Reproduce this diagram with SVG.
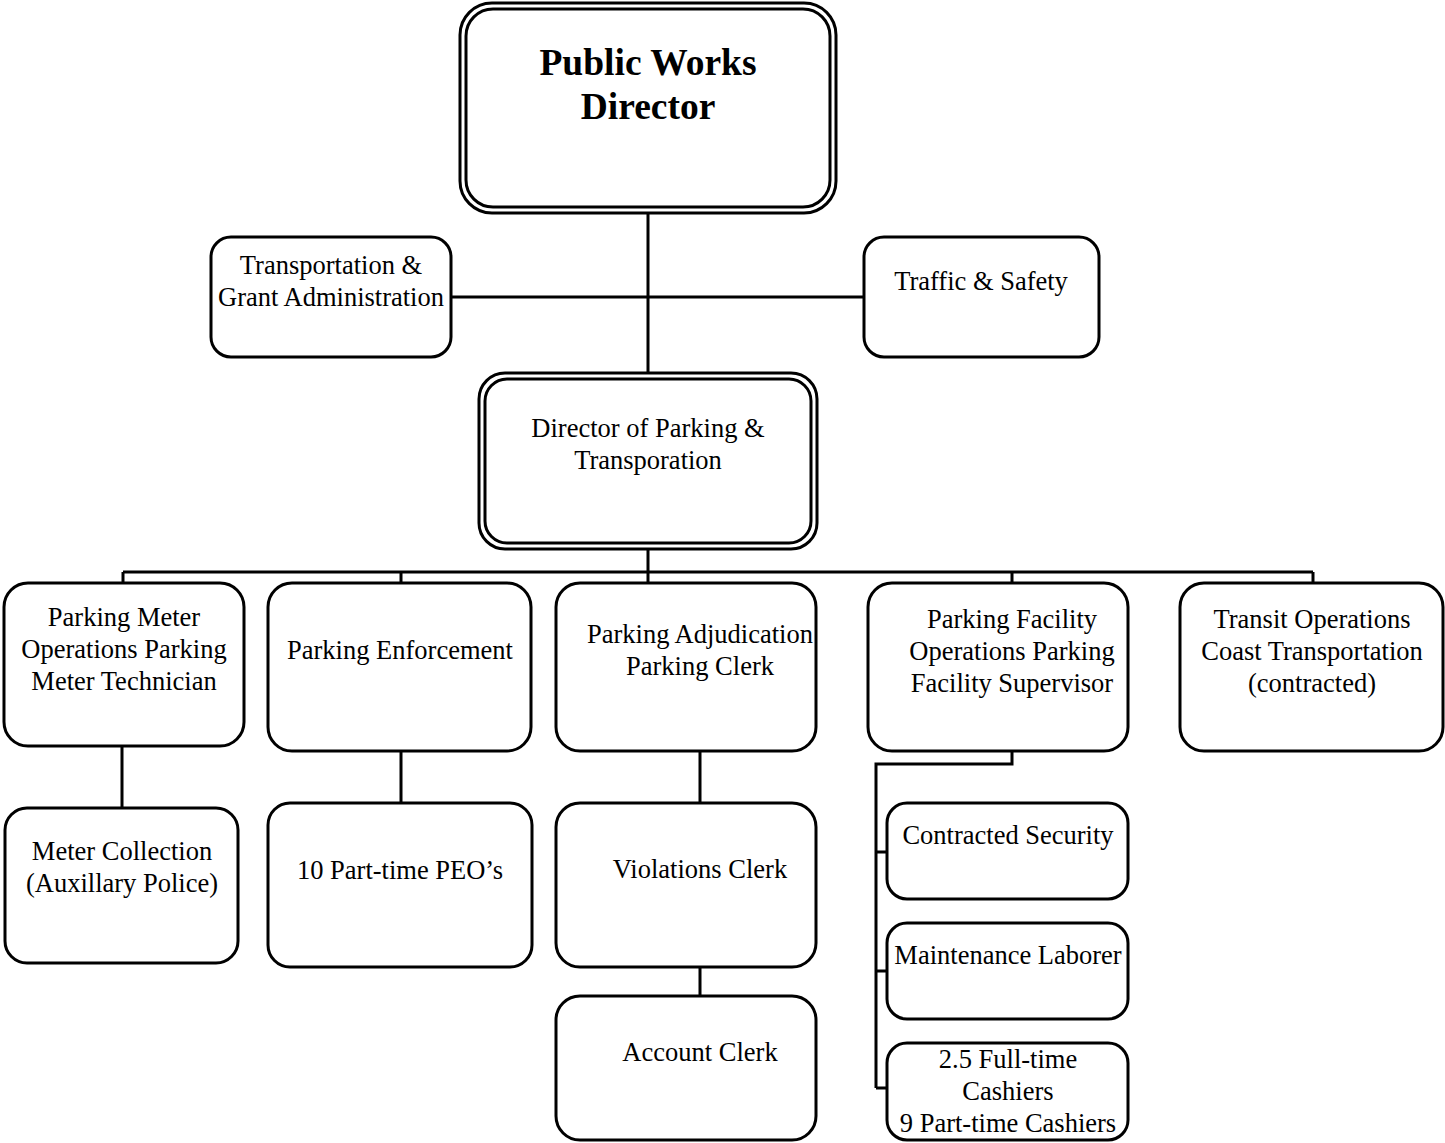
<svg xmlns="http://www.w3.org/2000/svg" width="1445" height="1143" viewBox="0 0 1445 1143">
<style>
.box{fill:#fff;stroke:#000;stroke-width:3}
.dbl{fill:none;stroke:#000;stroke-width:3}
.ln{fill:none;stroke:#000;stroke-width:3}
text{font-family:"Liberation Serif","Times New Roman",serif;font-size:26.5px;fill:#000;text-anchor:middle}
.big{font-size:37.5px;font-weight:bold}
</style>
<rect width="1445" height="1143" fill="#fff"/>
<g id="connectors">
<path class="ln" d="M648 213V375M451 297H864"/>
<path class="ln" d="M648 549V572M123 572H1313M123 572V583M401 572V583M648 572V583M1012 572V583M1313 572V583"/>
<path class="ln" d="M122 746V808M401 751V803M700 751V803M700 967V996"/>
<path class="ln" d="M1012 751V764H876V1088M876 852H888M876 971H888M876 1088H888"/>
</g>
<g id="n_pwd">
<rect class="box" x="460" y="3" width="376" height="210" rx="32"/>
<rect class="dbl" x="466" y="9" width="364" height="198" rx="27"/>
<text class="big" x="648" y="75">Public Works</text>
<text class="big" x="648" y="119">Director</text>
</g>
<g id="n_tga">
<rect class="box" x="211" y="237" width="240" height="120" rx="20"/>
<text x="331" y="274">Transportation &amp;</text>
<text x="331" y="306">Grant Administration</text>
</g>
<g id="n_ts">
<rect class="box" x="864" y="237" width="235" height="120" rx="20"/>
<text x="981" y="290">Traffic &amp; Safety</text>
</g>
<g id="n_dpt">
<rect class="box" x="479" y="373" width="338" height="176" rx="26"/>
<rect class="dbl" x="485" y="379" width="326" height="164" rx="22"/>
<text x="648" y="437">Director of Parking &amp;</text>
<text x="648" y="469">Transporation</text>
</g>
<g id="n_pmo">
<rect class="box" x="4" y="583" width="240" height="163" rx="24"/>
<text x="124" y="626">Parking Meter</text>
<text x="124" y="658">Operations Parking</text>
<text x="124" y="690">Meter Technician</text>
</g>
<g id="n_pe">
<rect class="box" x="268" y="583" width="263" height="168" rx="24"/>
<text x="400" y="659">Parking Enforcement</text>
</g>
<g id="n_pa">
<rect class="box" x="556" y="583" width="260" height="168" rx="24"/>
<text x="700" y="643">Parking Adjudication</text>
<text x="700" y="675">Parking Clerk</text>
</g>
<g id="n_pfo">
<rect class="box" x="868" y="583" width="260" height="168" rx="24"/>
<text x="1012" y="628">Parking Facility</text>
<text x="1012" y="660">Operations Parking</text>
<text x="1012" y="692">Facility Supervisor</text>
</g>
<g id="n_to">
<rect class="box" x="1180" y="583" width="263" height="168" rx="24"/>
<text x="1312" y="628">Transit Operations</text>
<text x="1312" y="660">Coast Transportation</text>
<text x="1312" y="692">(contracted)</text>
</g>
<g id="n_mc">
<rect class="box" x="5" y="808" width="233" height="155" rx="22"/>
<text x="122" y="860">Meter Collection</text>
<text x="122" y="892">(Auxillary Police)</text>
</g>
<g id="n_peo">
<rect class="box" x="268" y="803" width="264" height="164" rx="22"/>
<text x="400" y="879">10 Part-time PEO’s</text>
</g>
<g id="n_vc">
<rect class="box" x="556" y="803" width="260" height="164" rx="24"/>
<text x="700" y="878">Violations Clerk</text>
</g>
<g id="n_ac">
<rect class="box" x="556" y="996" width="260" height="144" rx="24"/>
<text x="700" y="1061">Account Clerk</text>
</g>
<g id="n_cs">
<rect class="box" x="887" y="803" width="241" height="96" rx="20"/>
<text x="1008" y="844">Contracted Security</text>
</g>
<g id="n_ml">
<rect class="box" x="887" y="923" width="241" height="96" rx="20"/>
<text x="1008" y="964">Maintenance Laborer</text>
</g>
<g id="n_cash">
<rect class="box" x="887" y="1043" width="241" height="97" rx="20"/>
<text x="1008" y="1068">2.5 Full-time</text>
<text x="1008" y="1100">Cashiers</text>
<text x="1008" y="1132">9 Part-time Cashiers</text>
</g>
</svg>
